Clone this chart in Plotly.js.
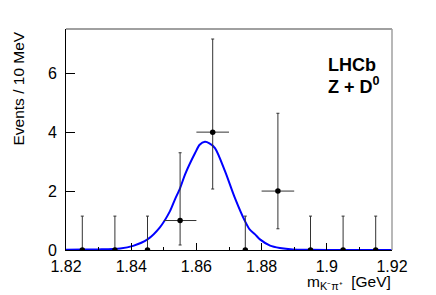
<!DOCTYPE html>
<html>
<head>
<meta charset="utf-8">
<script src="https://cdn.plot.ly/plotly-3.0.1.min.js"></script>
<style>html,body{margin:0;padding:0;background:#fff}#chart{width:436px;height:295px}</style>
</head>
<body>
<div id="chart"></div>
<script>
// Data histogram (bin centres, counts and asymmetric Poisson errors)
const binCenters = [1.825, 1.835, 1.845, 1.855, 1.865, 1.875, 1.885, 1.895, 1.905, 1.915];
const events     = [0, 0, 0, 1, 4, 0, 2, 0, 0, 0];
const errHigh    = [1.15, 1.15, 1.15, 2.30, 3.16, 1.15, 2.64, 1.15, 1.15, 1.15];
const errLow     = [0, 0, 0, 0.83, 1.93, 0, 1.28, 0, 0, 0];
const binHalfWidth = [0, 0, 0, 0.005, 0.005, 0, 0.005, 0, 0, 0];

// Fit curve
const fitX = [1.820, 1.825, 1.830, 1.8366, 1.8406, 1.845, 1.8488, 1.8519, 1.8534, 1.855, 1.8565, 1.8596, 1.861, 1.8626, 1.864, 1.8657, 1.8688, 1.8718, 1.8749, 1.8764, 1.8780, 1.8795, 1.8826, 1.8856, 1.8896, 1.895, 1.905, 1.920];
const fitY = [0.01, 0.015, 0.02, 0.05, 0.14, 0.36, 0.77, 1.32, 1.71, 2.10, 2.56, 3.29, 3.57, 3.67, 3.62, 3.46, 2.67, 1.77, 0.98, 0.69, 0.53, 0.36, 0.15, 0.07, 0.02, 0.01, 0.0, 0.0];

const xTickVals = [1.82, 1.84, 1.86, 1.88, 1.90, 1.92];
const xTickText = ['1.82', '1.84', '1.86', '1.88', '1.9', '1.92'];
const yTickVals = [0, 2, 4, 6];
const yTickText = ['0', '2', '4', '6'];

const font = 'Liberation Sans, Arial, Helvetica, sans-serif';

const traces = [
  {
    x: fitX, y: fitY, type: 'scatter', mode: 'lines',
    line: {color: '#0000ff', width: 2, shape: 'spline', smoothing: 0.8},
    hoverinfo: 'skip'
  },
  {
    x: binCenters, y: events, type: 'scatter', mode: 'markers',
    marker: {color: '#000', size: 5.5},
    error_y: {type: 'data', symmetric: false, array: errHigh, arrayminus: errLow, color: '#333', thickness: 1, width: 1.5},
    error_x: {type: 'data', array: binHalfWidth, color: '#333', thickness: 1, width: 0}
  }
];

const layout = {
  width: 436, height: 295,
  margin: {l: 66, r: 44, t: 29, b: 45},
  paper_bgcolor: '#fff', plot_bgcolor: '#fff',
  showlegend: false,
  font: {family: font, size: 15.5, color: '#000'},
  xaxis: {
    range: [1.82, 1.92], showgrid: false, zeroline: false,
    showline: true, linecolor: '#000', linewidth: 1,
    ticks: 'inside', ticklen: 7, tickcolor: '#000', tickwidth: 1,
    tickvals: xTickVals, ticktext: xTickText,
    ticklabelstandoff: 2,
    minor: {dtick: 0.01, tick0: 1.82, ticks: 'inside', ticklen: 3.5, tickcolor: '#000'},
    tickfont: {family: font, size: 16, color: '#000'}
  },
  yaxis: {
    range: [0, 7.5], showgrid: false, zeroline: false,
    showline: true, linecolor: '#000', linewidth: 1,
    ticks: 'inside', ticklen: 9, tickcolor: '#000', tickwidth: 1,
    tickvals: yTickVals, ticktext: yTickText,
    ticklabelstandoff: 5,
    tickfont: {family: font, size: 16, color: '#000'}
  },
  shapes: [
    {type: 'line', xref: 'paper', yref: 'paper', x0: 0, x1: 1, y0: 1, y1: 1, line: {color: '#a0a0a0', width: 2}},
    {type: 'line', xref: 'paper', yref: 'paper', x0: 1, x1: 1, y0: 0, y1: 1, line: {color: '#a0a0a0', width: 1.5}}
  ],
  annotations: [
    {text: '<b>LHCb</b>', xref: 'paper', yref: 'paper', x: 0.797, y: 0.838, xanchor: 'left', yanchor: 'middle', showarrow: false, font: {family: font, size: 18, color: '#000'}},
    {text: '<b>Z + D<sup>0</sup></b>', xref: 'paper', yref: 'paper', x: 0.797, y: 0.744, xanchor: 'left', yanchor: 'middle', showarrow: false, font: {family: font, size: 18, color: '#000'}},
    {text: 'Events / 10 MeV', xref: 'paper', yref: 'paper', x: -0.147, y: 0.731, xanchor: 'center', yanchor: 'middle', textangle: -90, showarrow: false, font: {family: font, size: 15.5, color: '#000'}},
    {text: 'm<sub>K⁻π⁺</sub>  [GeV]', xref: 'paper', yref: 'paper', x: 1.003, y: -0.145, xanchor: 'right', yanchor: 'middle', showarrow: false, font: {family: font, size: 15.5, color: '#000'}}
  ]
};

Plotly.newPlot('chart', traces, layout, {staticPlot: true, displayModeBar: false});
</script>
</body>
</html>
